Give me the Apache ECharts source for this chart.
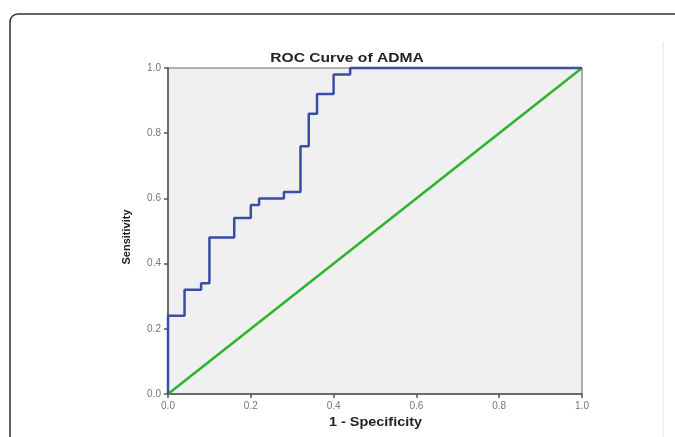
<!DOCTYPE html>
<html>
<head>
<meta charset="utf-8">
<script src="https://cdn.jsdelivr.net/npm/echarts@6/dist/echarts.min.js"></script>
<style>
  html, body { margin: 0; padding: 0; background: #fff; }
  #chart { width: 675px; height: 437px; }
</style>
</head>
<body>
<div id="chart"></div>
<script>
// ROC curve vertices (1 - specificity, sensitivity)
const fpr = [0, 0, 0.04, 0.04, 0.08, 0.08, 0.10, 0.10, 0.16, 0.16, 0.20, 0.20, 0.22, 0.22,
    0.28, 0.28, 0.32, 0.32, 0.34, 0.34, 0.36, 0.36, 0.40, 0.40, 0.44, 0.44, 1.0];
const tpr = [0, 0.24, 0.24, 0.32, 0.32, 0.34, 0.34, 0.48, 0.48, 0.54, 0.54, 0.58, 0.58, 0.60,
    0.60, 0.62, 0.62, 0.76, 0.76, 0.86, 0.86, 0.92, 0.92, 0.98, 0.98, 1.0, 1.0];
// reference line
const refX = [0, 1];
const refY = [0, 1];

const chartTitle = 'ROC Curve of ADMA';
const xName = '1 - Specificity';
const yName = 'Sensitivity';

const chart = echarts.init(document.getElementById('chart'));

const axisCommon = {
    type: 'value',
    min: 0,
    max: 1,
    interval: 0.2,
    splitLine: { show: false },
    axisLine: { show: true, lineStyle: { color: '#555', width: 1.5 } },
    axisTick: { show: true, length: 4, lineStyle: { color: '#555', width: 1.5 } },
    axisLabel: {
        color: '#777',
        fontSize: 10,
        margin: 7,
        fontFamily: 'Liberation Sans',
        formatter: v => v.toFixed(1)
    }
};

// text labels drawn as graphics so they can be stretched like the original
function label(text, x, y, size, opts) {
    return Object.assign({
        type: 'text',
        x: x,
        y: y,
        silent: true,
        style: {
            text: text,
            font: 'bold ' + size + 'px "Liberation Sans", Arial, sans-serif',
            fill: '#222',
            align: 'center',
            verticalAlign: 'middle',
            textAlign: 'center',
            textVerticalAlign: 'middle'
        }
    }, opts || {});
}

chart.setOption({
    animation: false,
    grid: {
        left: 168, right: 93, top: 68, bottom: 43,
        show: true,
        backgroundColor: '#f0f0f0',
        borderColor: '#666',
        borderWidth: 1
    },
    xAxis: axisCommon,
    yAxis: axisCommon,
    graphic: [
        {
            type: 'rect',
            shape: { x: 10, y: 14, width: 720, height: 500, r: 8 },
            style: { fill: 'none', stroke: '#333', lineWidth: 1.5 },
            silent: true
        },
        {
            type: 'line',
            shape: { x1: 663, y1: 42, x2: 663, y2: 437 },
            style: { stroke: '#e2e2e2', lineWidth: 1 },
            silent: true
        },
        label(chartTitle, 347, 58.5, 13, { scaleX: 1.2 }),
        label(xName, 375.5, 422, 13, { scaleX: 1.11 }),
        label(yName, 127, 237, 11, { rotation: Math.PI / 2 })
    ],
    series: [
        {
            type: 'line',
            data: refX.map((x, i) => [x, refY[i]]),
            symbol: 'none',
            clip: false,
            lineStyle: { color: '#2bb52b', width: 2.5 }
        },
        {
            type: 'line',
            data: fpr.map((x, i) => [x, tpr[i]]),
            symbol: 'none',
            clip: false,
            lineStyle: { color: '#3a4ea8', width: 2.5 }
        }
    ]
});
</script>
</body>
</html>
